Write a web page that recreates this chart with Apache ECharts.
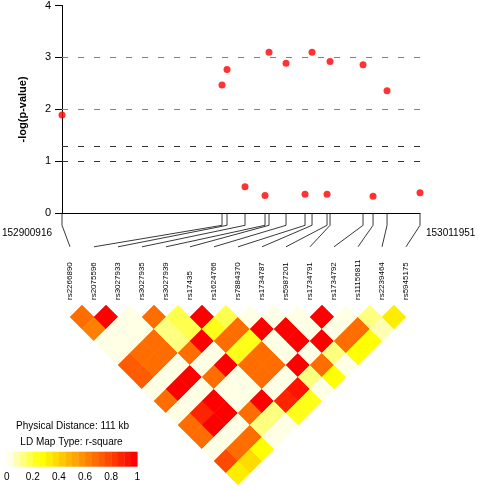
<!DOCTYPE html>
<html><head><meta charset="utf-8">
<script src="https://cdn.jsdelivr.net/npm/echarts@6/dist/echarts.min.js"></script>
<style>html,body{margin:0;padding:0;background:#fff}#c{width:478px;height:490px}</style>
</head><body><div id="c"></div>
<script>
const snpNames = ['rs2266890','rs2075596','rs3027933','rs3027935','rs3027939','rs17435','rs1624766','rs7884370','rs1734787','rs5987201','rs1734791','rs1734792','rs11156811','rs2239464','rs5945175'];
const positions = [152900916,152950548,152952099,152957683,152963887,152965127,152970401,152976295,152978466,152983119,152984050,152994286,152997388,153001731,153011951];
const logP = [1.89,2.47,2.77,0.51,0.345,3.10,2.89,0.365,3.10,0.365,2.92,2.86,0.326,2.36,0.395];
const refLines = [1, 1.3, 2, 3];
const regionStart = 152900916, regionEnd = 153011951;
// LD r-square, row i holds pairs (i, i+1..14)
const ldRows = [
  [0.68,0.62,0.02,0.02,0.72,0.72,0.02,0.68,0.02,0.68,0.68,0.02,0.77,0.30],
  [0.97,0.02,0.02,0.68,0.68,0.02,0.95,0.02,0.88,0.95,0.02,0.68,0.37],
  [0.02,0.02,0.68,0.68,0.02,0.95,0.02,0.95,0.95,0.02,0.68,0.28],
  [0.68,0.12,0.10,0.68,0.02,0.68,0.02,0.02,0.68,0.10,0.02],
  [0.18,0.15,0.97,0.03,0.97,0.02,0.02,0.97,0.10,0.02],
  [0.97,0.20,0.68,0.20,0.68,0.68,0.02,0.88,0.22],
  [0.18,0.68,0.20,0.68,0.68,0.02,0.92,0.22],
  [0.02,0.97,0.02,0.02,0.97,0.10,0.02],
  [0.02,0.97,0.97,0.02,0.68,0.25],
  [0.02,0.02,0.97,0.12,0.02],
  [0.97,0.02,0.68,0.27],
  [0.02,0.68,0.27],
  [0.10,0.05],
  [0.30]
];
const legendTicks = [0,0.2,0.4,0.6,0.8,1];
const heat = ['#FFFFE6','#FFFFB3','#FFFF80','#FFFF4D','#FFFF1A','#FFFF00','#FFED00','#FFDB00','#FFC800','#FFB600','#FFA400','#FF9200','#FF8000','#FF6D00','#FF5B00','#FF4900','#FF3700','#FF2400','#FF1200','#FF0000'];

const ldData = [];
ldRows.forEach((row, i) => row.forEach((v, k) => ldData.push([i, i + 1 + k, v])));
const legendBins = heat.map((c, k) => [k / heat.length, (k + 1) / heat.length, k]);
const colorOf = v => heat[Math.max(0, Math.min(heat.length - 1, Math.floor(v * heat.length)))];

const chart = echarts.init(document.getElementById('c'), null, {renderer: 'canvas'});
const FF = "'Liberation Sans', Arial, Helvetica, sans-serif";
chart.setOption({
  animation: false,
  backgroundColor: '#fff',
  textStyle: {fontFamily: FF, color: '#000'},
  grid: [
    {left: 62, right: 58, top: 5, bottom: 276.7},
    {left: 70, right: 72, top: 305, height: 180},
    {left: 6.7, width: 130.6, top: 451.7, height: 15}
  ],
  xAxis: [
    {gridIndex: 0, type: 'value', min: regionStart, max: regionEnd,
     axisLine: {show: true, onZero: false, lineStyle: {color: '#000', width: 1}},
     axisTick: {show: false}, axisLabel: {show: false}, splitLine: {show: false}},
    {gridIndex: 1, type: 'value', min: 0, max: snpNames.length - 1, interval: 1, position: 'top',
     axisLine: {show: false}, axisTick: {show: false}, splitLine: {show: false},
     axisLabel: {rotate: 90, margin: 5, fontSize: 8, color: '#000', fontFamily: FF,
       formatter: v => snpNames[v] || ''}},
    {gridIndex: 2, type: 'value', min: 0, max: 1, interval: 0.2,
     axisLine: {show: false}, axisTick: {show: false}, splitLine: {show: false},
     axisLabel: {margin: 6, fontSize: 10, color: '#000', fontFamily: FF}}
  ],
  yAxis: [
    {gridIndex: 0, type: 'value', min: 0, max: 4, interval: 1,
     name: '-log(p-value)', nameLocation: 'middle', nameGap: 34, nameRotate: 90,
     nameTextStyle: {fontWeight: 'bold', fontSize: 11, color: '#000', fontFamily: FF},
     axisLine: {show: true, lineStyle: {color: '#000', width: 1}},
     axisTick: {show: true, length: 7, lineStyle: {color: '#000'}},
     axisLabel: {fontSize: 11, color: '#000', margin: 11, fontFamily: FF},
     splitLine: {show: false}},
    {gridIndex: 1, type: 'value', min: 0, max: 15, inverse: true, show: false},
    {gridIndex: 2, type: 'value', min: 0, max: 1, show: false}
  ],
  series: [
    {type: 'scatter', xAxisIndex: 0, yAxisIndex: 0, symbolSize: 7,
     itemStyle: {color: '#f00'}, z: 5,
     data: positions.map((p, i) => [p, logP[i]]),
     markLine: {silent: true, symbol: 'none', label: {show: false},
       data: refLines.map(v => ({yAxis: v, lineStyle: {type: [6, 10], width: 1.2, color: v >= 2 ? '#808080' : '#333'}}))}},
    {type: 'custom', xAxisIndex: 0, yAxisIndex: 0, silent: true,
     data: positions.map((p, k) => [p, k]),
     renderItem: (params, api) => {
       const top = api.coord([api.value(0), 0]);
       const lx = chart.convertToPixel({xAxisIndex: 1}, api.value(1));
       return {type: 'polyline', shape: {points: [top, [top[0], top[1] + 12], [lx, top[1] + 33.5]]},
               style: {stroke: '#222', lineWidth: 0.9, fill: null}};
     }},
    {type: 'custom', xAxisIndex: 1, yAxisIndex: 1, silent: true,
     data: ldData,
     renderItem: (params, api) => {
       const i = api.value(0), j = api.value(1), v = api.value(2);
       const c = (i + j) / 2, d = j - i;
       const pts = [api.coord([c, d - 1]), api.coord([c + 0.5, d]), api.coord([c, d + 1]), api.coord([c - 0.5, d])];
       const col = colorOf(v);
       return {type: 'polygon', shape: {points: pts}, style: {fill: col, stroke: col, lineWidth: 0.5}};
     }},
    {type: 'custom', xAxisIndex: 2, yAxisIndex: 2, silent: true,
     data: legendBins,
     renderItem: (params, api) => {
       const a = api.coord([api.value(0), 1]);
       const b = api.coord([api.value(1), 0]);
       const col = heat[api.value(2)];
       return {type: 'rect', shape: {x: a[0], y: a[1], width: b[0] - a[0] + 0.3, height: b[1] - a[1]},
               style: {fill: col}};
     }}
  ],
  graphic: [
    {type: 'text', left: 2, top: 228, style: {text: String(regionStart), font: '10px ' + FF, fill: '#000'}},
    {type: 'text', left: 426, top: 228, style: {text: String(regionEnd), font: '10px ' + FF, fill: '#000'}},
    {type: 'text', x: 72.5, y: 426, style: {text: 'Physical Distance: 111 kb', font: '10px ' + FF, fill: '#000', align: 'center', verticalAlign: 'middle'}},
    {type: 'text', x: 71.5, y: 442.5, style: {text: 'LD Map Type: r-square', font: '10px ' + FF, fill: '#000', align: 'center', verticalAlign: 'middle'}}
  ]
});
</script></body></html>
